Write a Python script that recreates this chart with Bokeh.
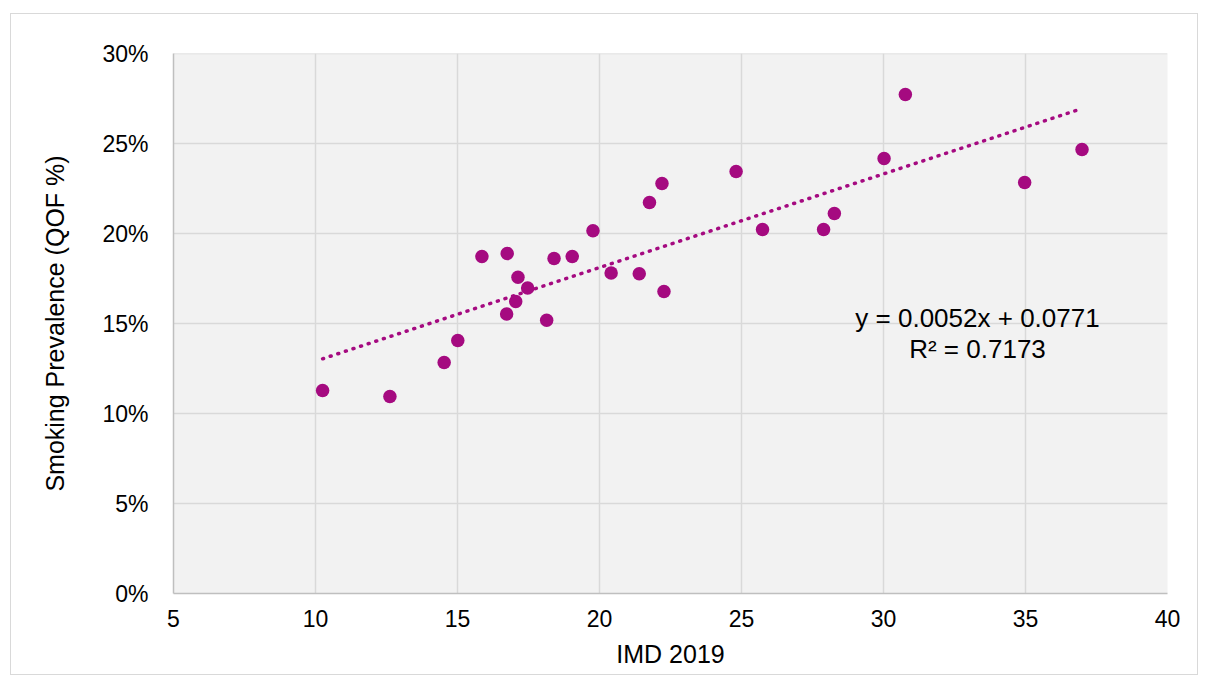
from bokeh.plotting import figure
from bokeh.models import NumeralTickFormatter, SingleIntervalTicker, Label, Range1d
from bokeh.embed import file_html
from bokeh.resources import INLINE

# IMD 2019 score (x) and smoking prevalence QOF (y, fraction)
imd = [10.25, 12.62, 14.53, 15.01, 15.86, 16.75, 16.73, 17.13, 17.05, 17.47,
       18.14, 18.40, 19.04, 19.77, 20.41, 21.40, 21.76, 22.20, 22.27, 24.81,
       25.74, 27.89, 28.27, 30.02, 30.77, 34.97, 36.99]
smoking = [0.1128, 0.1094, 0.1283, 0.1406, 0.1872, 0.1889, 0.1553, 0.1757, 0.1622, 0.1697,
           0.1518, 0.1861, 0.1872, 0.2015, 0.1781, 0.1776, 0.2172, 0.2278, 0.1678, 0.2344,
           0.2022, 0.2022, 0.2111, 0.2417, 0.2772, 0.2283, 0.2467]

# Linear trendline (as shown in the chart label)
slope = 0.0052
intercept = 0.0771
r_squared = 0.7173

x_ticks_interval = 5
y_ticks_interval = 0.05

COLOR = "#a50a80"
FONT = "Liberation Sans"

p = figure(width=1188, height=662, output_backend="svg", toolbar_location=None,
           x_range=Range1d(5, 40), y_range=Range1d(0, 0.30001),
           min_border_left=162, min_border_top=39, min_border_right=32, min_border_bottom=83,
           background_fill_color="#f2f2f2", border_fill_color="white",
           outline_line_color=None,
           styles={"border": "1px solid #d9d9d9", "margin-left": "10px", "margin-top": "13px"})

# grid
p.xgrid.ticker = SingleIntervalTicker(interval=x_ticks_interval)
p.ygrid.ticker = SingleIntervalTicker(interval=y_ticks_interval)
for g in (p.xgrid, p.ygrid):
    g.grid_line_color = "#d9d9d9"
    g.grid_line_width = 1.5

# axes
p.xaxis.ticker = SingleIntervalTicker(interval=x_ticks_interval)
p.yaxis.ticker = SingleIntervalTicker(interval=y_ticks_interval)
p.yaxis.formatter = NumeralTickFormatter(format="0%")
for ax in (p.xaxis, p.yaxis):
    ax.axis_line_color = "#bfbfbf"
    ax.axis_line_width = 1.5
    ax.major_tick_line_color = None
    ax.minor_tick_line_color = None
    ax.major_tick_out = 0
    ax.major_tick_in = 0
    ax.major_label_text_font = FONT
    ax.major_label_text_font_size = "23px"
    ax.major_label_text_color = "#000000"
    ax.axis_label_text_font = FONT
    ax.axis_label_text_font_size = "25px"
    ax.axis_label_text_font_style = "normal"
    ax.axis_label_text_color = "#000000"

p.xaxis.axis_label = "IMD 2019"
p.yaxis.axis_label = "Smoking Prevalence (QOF %)"
p.xaxis.major_label_standoff = 12
p.xaxis.axis_label_standoff = 10
p.yaxis.major_label_standoff = 21
p.yaxis.axis_label_standoff = 30

# trendline across data range
x0, x1 = min(imd), max(imd)
p.line([x0, x1], [slope * x0 + intercept, slope * x1 + intercept],
       line_color=COLOR, line_width=3.5, line_dash="1 7", line_cap="round")

# points
p.scatter(imd, smoking, size=13.5, fill_color=COLOR, line_color=COLOR, line_width=0)

# equation labels
p.add_layout(Label(x=33.31, y=0.1533, text=f"y = {slope:.4f}x + {intercept:.4f}",
                   text_align="center", text_baseline="middle",
                   text_font=FONT, text_font_size="26px", text_color="#000000"))
p.add_layout(Label(x=33.31, y=0.1361, text=f"R\u00b2 = {r_squared:.4f}",
                   text_align="center", text_baseline="middle",
                   text_font=FONT, text_font_size="26px", text_color="#000000"))

open("out.html", "w").write(file_html(p, INLINE))
